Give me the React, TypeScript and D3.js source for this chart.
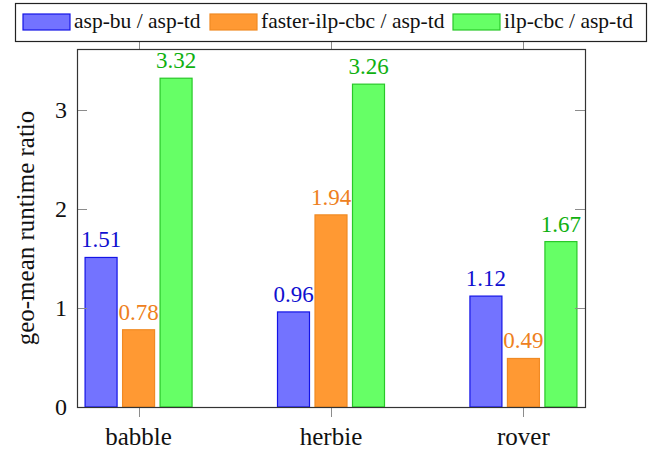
import React from "react";
import * as d3 from "d3";

const categories = ["babble", "herbie", "rover"];
const seriesNames = ["asp-bu / asp-td", "faster-ilp-cbc / asp-td", "ilp-cbc / asp-td"];
const aspBu = [1.51, 0.96, 1.12];
const fasterIlpCbc = [0.78, 1.94, 0.49];
const ilpCbc = [3.32, 3.26, 1.67];
const yTicks = [0, 1, 2, 3];

const fills = ["#7373ff", "#ff9933", "#66ff66"];
const strokes = ["#1414e6", "#f08a24", "#28c828"];
const labelColors = ["#1010d0", "#ee8020", "#10b010"];

const FONT = '"Liberation Serif", "Times New Roman", serif';

const W = 649;
const H = 450;
const margin = { top: 49, right: 64, bottom: 43, left: 77 };
const left = margin.left;
const right = W - margin.right;
const top = margin.top;
const bottom = H - margin.bottom;
const barW = 32;
const offs = [-37.5, 0, 37.5];
const tickLen = 10;
// legend entry x starts (swatch) as laid out in the reference
const legendX = [23, 210, 453];

export default function App() {
  const x = d3.scalePoint<string>().domain(categories).range([left, right]).padding(0.32);
  const y = d3.scaleLinear().domain([0, 3.615]).range([bottom, top]);
  const series = [aspBu, fasterIlpCbc, ilpCbc];

  return (
    <div style={{ position: "absolute", left: 0, top: 0 }}>
      <svg width={W} height={H} style={{ display: "block", background: "white", fontFamily: FONT }}>
        {categories.map((c) => {
          const cx = Math.round(x(c)!) + 0.5;
          return (
            <g key={"xt" + c} stroke="#8c8c8c">
              <line x1={cx} x2={cx} y1={bottom} y2={bottom + tickLen} />
              <line x1={cx} x2={cx} y1={top} y2={top - tickLen} />
            </g>
          );
        })}
        {series.map((vals, si) =>
          vals.map((d, i) => (
            <g key={`b${si}-${i}`}>
              <rect
                x={x(categories[i])! + offs[si] - barW / 2}
                y={y(d)}
                width={barW}
                height={y(0) - y(d)}
                fill={fills[si]}
                stroke={strokes[si]}
                strokeWidth={1.2}
              />
              <text
                x={x(categories[i])! + offs[si]}
                y={y(d) - 10}
                textAnchor="middle"
                fill={labelColors[si]}
                style={{ fontFamily: FONT, fontSize: 23 }}
              >
                {d.toFixed(2)}
              </text>
            </g>
          ))
        )}
        {yTicks.map((t) => {
          const ty = Math.round(y(t)) + 0.5;
          return (
            <g key={"yt" + t}>
              {t > 0 && (
                <g stroke="#8c8c8c">
                  <line x1={left} x2={left + tickLen} y1={ty} y2={ty} />
                  <line x1={right} x2={right - tickLen} y1={ty} y2={ty} />
                </g>
              )}
              <text x={left - 10} y={y(t) + 8} textAnchor="end" fill="#111" style={{ fontFamily: FONT, fontSize: 24 }}>
                {t}
              </text>
            </g>
          );
        })}
        <rect
          x={left + 0.5}
          y={top + 0.5}
          width={right - left}
          height={bottom - top}
          fill="none"
          stroke="#333"
          strokeWidth={1.2}
        />
        {categories.map((c) => (
          <text key={"cl" + c} x={x(c)!} y={445} textAnchor="middle" fill="#111" style={{ fontFamily: FONT, fontSize: 25 }}>
            {c}
          </text>
        ))}
        <text
          transform={`translate(34,${(top + bottom) / 2}) rotate(-90)`}
          textAnchor="middle"
          fill="#111"
          style={{ fontFamily: FONT, fontSize: 25 }}
        >
          geo-mean runtime ratio
        </text>
        <g>
          <rect x={15.5} y={3.5} width={631} height={38} fill="white" stroke="#222" strokeWidth={1.2} />
          {seriesNames.map((name, si) => (
            <g key={"lg" + si}>
              <rect x={legendX[si]} y={14} width={47} height={16} fill={fills[si]} stroke={strokes[si]} strokeWidth={1.2} />
              <text x={legendX[si] + 51} y={28} fill="#111" style={{ fontFamily: FONT, fontSize: 21.5 }}>
                {name}
              </text>
            </g>
          ))}
        </g>
      </svg>
    </div>
  );
}
